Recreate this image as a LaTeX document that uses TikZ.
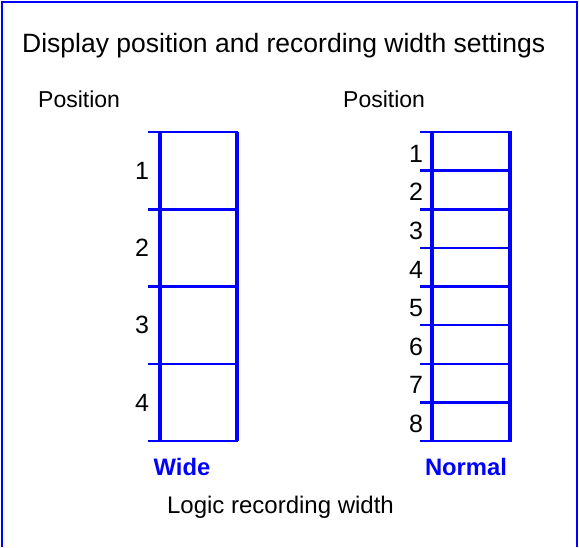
\documentclass[tikz,border=0pt]{standalone}
\usepackage{fontspec}
\setmainfont{Liberation Sans}
\usepackage{xcolor}
\usetikzlibrary{positioning}
\definecolor{lineblue}{RGB}{0,0,255}
\tikzset{
    frame/.style={
        draw=lineblue,
        line width=2.6pt
    },
    rowline/.style={
        draw=lineblue,
        line width=2.5pt
    },
    colline/.style={
        draw=lineblue,
        line width=3.4pt
    },
    titletext/.style={
        inner sep=0pt,
        font=\fontsize{26.5}{31}\selectfont
    },
    plaintext/.style={
        inner sep=0pt,
        font=\fontsize{23}{27}\selectfont
    },
    rownum/.style={
        inner sep=0pt,
        font=\fontsize{25}{29}\selectfont
    },
    widthname/.style={
        inner sep=0pt,
        text=lineblue,
        font=\fontsize{23.8}{28}\selectfont\bfseries
    }
}

\begin{document}
\begin{tikzpicture}[x=1pt, y=-1pt]
\useasboundingbox (0,0) rectangle (579,547);

% outer frame, open at the bottom
\draw[frame] (2,547) |- (577,2) -- (577,547);

\node[titletext, anchor=base west] (title) at (22,52) {Display position and recording width settings};
\node[plaintext, anchor=base west] (poswide) at (38,107) {Position};
\node[plaintext, anchor=base west] (posnormal) at (343,107) {Position};

% wide: 4 positions
\foreach \i in {0,...,4}
    \draw[rowline] (148,132+77.25*\i) -- (238,132+77.25*\i);
\draw[colline] (160,132) -- (160,441);
\draw[colline] (237,132) -- (237,441);
\foreach \i in {1,...,4}
    \node[rownum] (w\i) at (142,132+77.25*\i-38.6) {\i};

% normal: 8 positions
\foreach \i in {0,...,8}
    \draw[rowline] (420,132+38.625*\i) -- (512,132+38.625*\i);
\draw[colline] (432,132) -- (432,441);
\draw[colline] (510,132) -- (510,441);
\foreach \i in {1,...,8}
    \node[rownum] (n\i) at (416,132+38.625*\i-17) {\i};

\node[widthname, anchor=base] (wide) at (182,475) {Wide};
\node[widthname, anchor=base] (normal) at (466,475) {Normal};
\node[plaintext, anchor=base, font=\fontsize{24}{28}\selectfont] (logic) at (280.5,513) {Logic recording width};
\end{tikzpicture}
\end{document}
